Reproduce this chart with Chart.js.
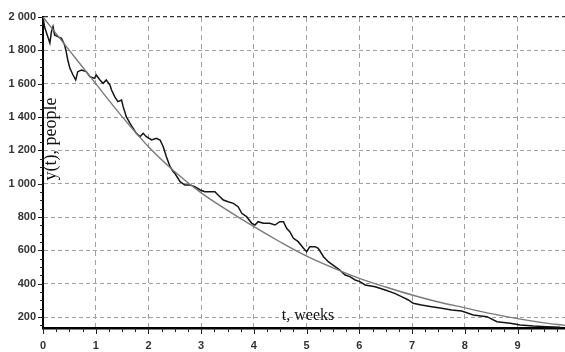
<!DOCTYPE html>
<html>
<head>
<meta charset="utf-8">
<script src="https://cdn.jsdelivr.net/npm/chart.js@4/dist/chart.umd.min.js"></script>
<style>
html,body{margin:0;padding:0;background:#fff;}
#c{display:block;}
</style>
</head>
<body>
<canvas id="c" width="565" height="352"></canvas>
<script>
// Noisy (observed) series: time in weeks, people
const tNoisy = [0.00,0.03,0.13,0.16,0.19,0.22,0.28,0.35,0.41,0.44,0.47,0.51,0.57,0.62,0.66,0.73,0.82,0.89,0.98,1.01,1.08,1.14,1.20,1.27,1.30,1.36,1.42,1.49,1.52,1.58,1.65,1.71,1.77,1.84,1.90,1.96,2.06,2.15,2.22,2.28,2.34,2.41,2.47,2.50,2.60,2.69,2.79,2.88,2.98,3.07,3.17,3.26,3.32,3.42,3.51,3.61,3.70,3.77,3.86,3.96,4.02,4.08,4.18,4.30,4.40,4.49,4.56,4.62,4.68,4.75,4.84,4.94,5.00,5.06,5.16,5.22,5.32,5.41,5.54,5.63,5.73,5.82,5.92,6.01,6.11,6.30,6.49,6.67,6.80,6.93,7.02,7.18,7.37,7.56,7.75,7.94,8.16,8.42,8.61,8.86,9.05,9.30,9.56,9.81];
const yNoisy = [2000,1940,1844,1912,1942,1892,1882,1872,1832,1792,1742,1692,1652,1622,1672,1682,1672,1642,1632,1652,1622,1602,1622,1592,1562,1522,1492,1502,1462,1402,1362,1332,1302,1282,1302,1282,1262,1272,1262,1222,1162,1102,1072,1062,1012,992,992,982,962,952,952,952,932,902,892,882,862,822,802,762,752,772,762,762,752,772,772,732,712,672,652,612,592,622,622,612,562,532,502,482,452,442,422,412,392,382,362,342,322,302,282,272,262,252,242,236,212,202,172,162,152,146,142,138];
// Smooth (model) series
const tSmooth = [0,0.5,1,1.5,2,2.5,3,3.5,4,4.5,5,5.5,6,6.5,7,7.5,8,8.5,9,9.5,9.9];
const ySmooth = [2000,1800,1600,1402,1222,1072,945,840,742,650,565,495,432,380,332,290,255,220,190,165,150];
// Axis ticks
const xTicks = [0,1,2,3,4,5,6,7,8,9];
const yTicks = [200,400,600,800,1000,1200,1400,1600,1800,2000];
const xTitle = 't, weeks';
const yTitle = 'y(t), people';

function fmt(v){
  if (v >= 1000) { return Math.floor(v/1000) + ' ' + String(v % 1000).padStart(3,'0'); }
  return String(v);
}

const decor = {
  id: 'decor',
  afterDraw(chart){
    const ctx = chart.ctx;
    const xs = chart.scales.x, ys = chart.scales.y;
    const a = chart.chartArea;
    ctx.save();
    ctx.strokeStyle = '#222';
    ctx.lineWidth = 1;
    for (let i = 0; i <= 39; i++) {
      const v = i * 0.25;
      if (v > xs.max) break;
      const px = Math.round(xs.getPixelForValue(v)) + 0.5;
      const len = (i % 4 === 0) ? 6 : 4;
      ctx.beginPath(); ctx.moveTo(px, a.bottom); ctx.lineTo(px, a.bottom + len); ctx.stroke();
    }
    for (let v = 150; v <= 2000; v += 50) {
      const py = Math.round(ys.getPixelForValue(v)) + 0.5;
      const len = (v % 200 === 0) ? 5 : 3;
      ctx.beginPath(); ctx.moveTo(a.left - len, py); ctx.lineTo(a.left, py); ctx.stroke();
    }
    ctx.fillStyle = '#111';
    ctx.font = '16px "Liberation Serif", "Times New Roman", serif';
    ctx.textAlign = 'center';
    ctx.textBaseline = 'alphabetic';
    ctx.fillText(xTitle, 308, 320);
    ctx.save();
    ctx.translate(56, 139);
    ctx.rotate(-Math.PI/2);
    ctx.font = '18px "Liberation Serif", "Times New Roman", serif';
    ctx.fillText(yTitle, 0, 0);
    ctx.restore();
    ctx.restore();
  }
};

new Chart(document.getElementById('c'), {
  type: 'line',
  data: {
    datasets: [
      {
        data: tSmooth.map((t,i)=>({x:t, y:ySmooth[i]})),
        borderColor: '#7a7a7a',
        borderWidth: 1.4,
        pointRadius: 0,
        cubicInterpolationMode: 'monotone',
        fill: false
      },
      {
        data: tNoisy.map((t,i)=>({x:t, y:yNoisy[i]})),
        borderColor: '#151515',
        borderWidth: 1.5,
        pointRadius: 0,
        tension: 0,
        fill: false
      }
    ]
  },
  options: {
    responsive: false,
    animation: false,
    devicePixelRatio: 1,
    layout: { padding: { top: 17, right: 0, left: 0, bottom: 0 } },
    plugins: { legend: { display: false }, tooltip: { enabled: false }, title: { display: false } },
    scales: {
      x: {
        type: 'linear',
        min: 0,
        max: 9.9,
        afterBuildTicks(s){ s.ticks = xTicks.map(v=>({value:v})); },
        afterFit(s){ s.height = 24; },
        grid: { color: '#a0a0a0', lineWidth: 1, drawTicks: false },
        border: { display: true, color: '#000', width: 2.5, dash: [5,4] },
        ticks: { padding: 11, color: '#333', font: { family: '"Liberation Sans", Arial, sans-serif', size: 11, weight: 'bold' }, maxRotation: 0, autoSkip: false }
      },
      y: {
        type: 'linear',
        min: 134,
        max: 2000,
        afterBuildTicks(s){ s.ticks = yTicks.map(v=>({value:v})); },
        afterFit(s){ s.width = 43; },
        grid: {
          color: (c)=> (c.tick && c.tick.value === 2000) ? '#333' : '#a0a0a0',
          lineWidth: (c)=> (c.tick && c.tick.value === 2000) ? 1.3 : 1,
          drawTicks: false
        },
        border: { display: true, color: '#000', width: 2, dash: [4,3] },
        ticks: { padding: 7, color: '#333', font: { family: '"Liberation Sans", Arial, sans-serif', size: 11, weight: 'bold' }, callback: (v)=>fmt(v), autoSkip: false }
      }
    }
  },
  plugins: [decor]
});
</script>
</body>
</html>
